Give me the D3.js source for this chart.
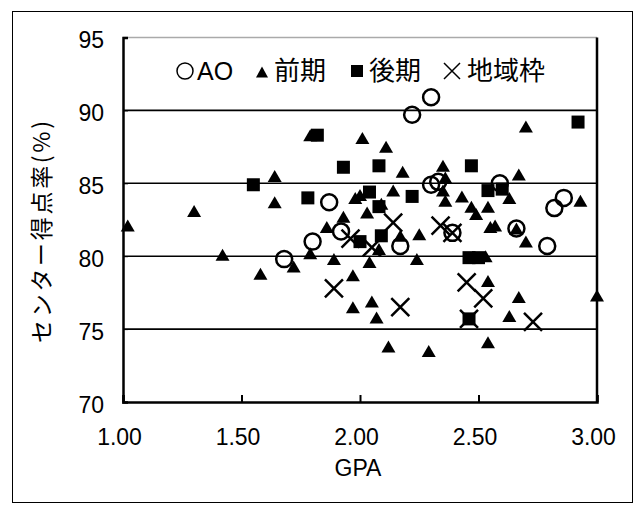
<!DOCTYPE html>
<html>
<head>
<meta charset="utf-8">
<script src="https://cdn.jsdelivr.net/npm/d3@7"></script>
<style>
  body { margin: 0; background: #fff; }
  text { font-family: "Liberation Sans", Arial, "Noto Sans CJK JP", sans-serif; }
  .jp { font-family: "Noto Sans CJK JP", sans-serif; }
</style>
</head>
<body>
<svg id="chart" width="644" height="513"></svg>
<script>
// AO
const aoData = [
  [1.68, 79.8], [1.80, 81.0], [1.87, 83.7], [1.92, 81.7], [2.17, 80.7],
  [2.22, 89.7], [2.30, 90.9], [2.30, 84.9], [2.33, 85.1], [2.39, 81.6],
  [2.59, 85.0], [2.66, 81.9], [2.79, 80.7], [2.82, 83.3], [2.86, 84.0]
];
// 前期
const zenkiData = [
  [1.02, 82.1], [1.30, 83.1], [1.42, 80.1], [1.58, 78.8], [1.64, 85.5],
  [1.64, 83.7], [1.72, 79.3], [1.79, 88.3], [1.79, 80.2], [1.86, 82.0],
  [1.89, 79.8], [1.93, 82.7], [1.97, 76.5], [1.97, 78.7], [1.98, 84.0],
  [2.00, 84.2], [2.01, 88.1], [2.03, 83.0], [2.04, 79.6], [2.05, 76.9],
  [2.07, 75.8], [2.08, 80.5], [2.09, 83.6], [2.11, 87.5], [2.12, 73.8],
  [2.14, 84.5], [2.17, 81.4], [2.18, 85.8], [2.24, 79.8], [2.25, 81.5],
  [2.29, 73.5], [2.35, 86.2], [2.36, 85.4], [2.35, 84.5], [2.36, 83.8],
  [2.43, 84.1], [2.47, 83.4], [2.49, 82.9], [2.54, 83.4], [2.53, 80.0],
  [2.54, 78.3], [2.54, 74.1], [2.55, 82.0], [2.57, 82.1], [2.63, 84.0],
  [2.63, 75.9], [2.66, 81.9], [2.67, 85.6], [2.67, 77.2], [2.70, 88.9],
  [2.70, 81.0], [2.93, 83.8], [3.00, 77.3]
];
// 後期
const kokiData = [
  [1.55, 84.9], [1.82, 88.3], [1.78, 84.0], [1.93, 86.1], [2.08, 86.2],
  [2.04, 84.4], [2.08, 83.4], [2.22, 84.1], [2.00, 81.0], [2.09, 81.4],
  [2.47, 86.2], [2.54, 84.5], [2.60, 84.6], [2.46, 79.9], [2.50, 79.9],
  [2.46, 75.7], [2.92, 89.2]
];
// 地域枠
const chiikiData = [
  [1.89, 77.8], [1.96, 81.2], [2.05, 80.6], [2.14, 82.3], [2.17, 76.5],
  [2.34, 82.1], [2.39, 81.6], [2.45, 78.2], [2.52, 77.1], [2.46, 75.7],
  [2.73, 75.5]
];

const xTicks = [1.0, 1.5, 2.0, 2.5, 3.0];
const yTicks = [70, 75, 80, 85, 90, 95];
const legendItems = ["AO", "前期", "後期", "地域枠"];

const svg = d3.select("#chart");

// outer frame
svg.append("rect")
  .attr("x", 12.5).attr("y", 11.5)
  .attr("width", 620).attr("height", 491)
  .attr("fill", "none").attr("stroke", "#000").attr("stroke-width", 1);

const x = d3.scaleLinear().domain([1, 3]).range([123, 597]);
const y = d3.scaleLinear().domain([70, 95]).range([402, 37.5]);

// gridlines
svg.append("g")
  .selectAll("line")
  .data(yTicks.filter(d => d > 70 && d < 95))
  .join("line")
  .attr("x1", x(1)).attr("x2", x(3))
  .attr("y1", d => y(d)).attr("y2", d => y(d))
  .attr("stroke", "#000").attr("stroke-width", 1.6);

// top border (grey)
svg.append("line")
  .attr("x1", x(1)).attr("x2", x(3))
  .attr("y1", y(95)).attr("y2", y(95))
  .attr("stroke", "#aaa").attr("stroke-width", 1.5);

// axes
const xAxis = svg.append("g")
  .attr("transform", `translate(0,${y(70)})`)
  .call(d3.axisBottom(x).tickValues(xTicks).tickSize(-7).tickFormat(d3.format(".2f")));
xAxis.select(".domain").attr("stroke-width", 2.5);
xAxis.selectAll(".tick line").attr("stroke-width", 2);
xAxis.selectAll("text")
  .attr("font-size", 23).attr("y", 43).attr("dy", 0).attr("dx", -4)
  .attr("font-family", "Liberation Sans, Arial, sans-serif");

const yAxis = svg.append("g")
  .attr("transform", `translate(${x(1)},0)`)
  .call(d3.axisLeft(y).tickValues(yTicks).tickSize(-5).tickPadding(19));
yAxis.select(".domain").attr("stroke-width", 2.5);
yAxis.selectAll("text")
  .attr("font-size", 23).attr("dy", "0.45em")
  .attr("font-family", "Liberation Sans, Arial, sans-serif");

// right border
svg.append("line")
  .attr("x1", x(3)).attr("x2", x(3))
  .attr("y1", y(95)).attr("y2", y(70))
  .attr("stroke", "#000").attr("stroke-width", 2.5);

// axis titles
svg.append("text")
  .attr("x", 358).attr("y", 476)
  .attr("text-anchor", "middle")
  .attr("font-size", 23)
  .text("GPA");

svg.append("text")
  .attr("class", "jp")
  .attr("transform", "translate(50,232) rotate(-90)")
  .attr("text-anchor", "middle")
  .attr("font-size", 23)
  .attr("textLength", 222)
  .attr("lengthAdjust", "spacing")
  .text("センター得点率(%)");

// marker shapes
function triPath(w, h) {
  return `M0,${-h / 2}L${w / 2},${h / 2}L${-w / 2},${h / 2}Z`;
}
function crossPath(s) {
  return `M${-s},${-s}L${s},${s}M${-s},${s}L${s},${-s}`;
}

const plot = svg.append("g");

// 後期 squares
plot.append("g").selectAll("rect")
  .data(kokiData)
  .join("rect")
  .attr("x", d => x(d[0]) - 6.5).attr("y", d => y(d[1]) - 6.5)
  .attr("width", 13).attr("height", 13)
  .attr("fill", "#000");

// 前期 triangles
plot.append("g").selectAll("path")
  .data(zenkiData)
  .join("path")
  .attr("transform", d => `translate(${x(d[0])},${y(d[1])})`)
  .attr("d", triPath(14, 12))
  .attr("fill", "#000");

// AO circles
plot.append("g").selectAll("circle")
  .data(aoData)
  .join("circle")
  .attr("cx", d => x(d[0])).attr("cy", d => y(d[1]))
  .attr("r", 8)
  .attr("fill", "none").attr("stroke", "#000").attr("stroke-width", 2.5);

// 地域枠 crosses
plot.append("g").selectAll("path")
  .data(chiikiData)
  .join("path")
  .attr("transform", d => `translate(${x(d[0])},${y(d[1])})`)
  .attr("d", crossPath(9))
  .attr("fill", "none").attr("stroke", "#000").attr("stroke-width", 2.5);

// legend
const legY = 71;
const legX = [185, 262, 357, 452];
const leg = svg.append("g");
leg.append("circle").attr("cx", legX[0]).attr("cy", legY).attr("r", 8)
  .attr("fill", "none").attr("stroke", "#000").attr("stroke-width", 1.5);
leg.append("path").attr("transform", `translate(${legX[1]},${legY + 1})`)
  .attr("d", triPath(12, 11)).attr("fill", "#000");
leg.append("rect").attr("x", legX[2] - 6).attr("y", legY - 6)
  .attr("width", 12).attr("height", 12).attr("fill", "#000");
leg.append("path").attr("transform", `translate(${legX[3]},${legY})`)
  .attr("d", crossPath(8)).attr("fill", "none").attr("stroke", "#000").attr("stroke-width", 1.5);
leg.selectAll("text")
  .data(legendItems)
  .join("text")
  .attr("class", (d, i) => i === 0 ? null : "jp")
  .attr("x", (d, i) => legX[i] + (i === 0 ? 12 : (i === 3 ? 15 : 12)))
  .attr("y", legY)
  .attr("dy", "0.36em")
  .attr("font-size", (d, i) => i === 0 ? 25 : 26)
  .text(d => d);
</script>
</body>
</html>
